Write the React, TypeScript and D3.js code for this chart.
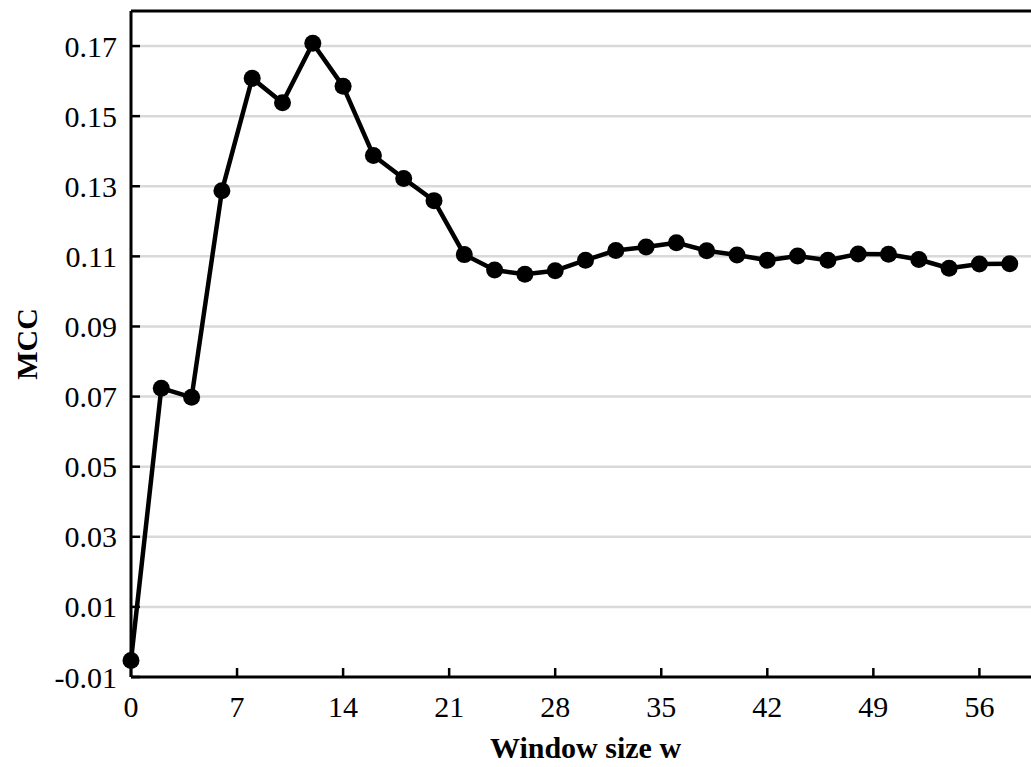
import React from "react";
import * as d3 from "d3";

// window sizes (x) and MCC values
const windowSizes = [
  0, 2, 4, 6, 8, 10, 12, 14, 16, 18, 20, 22, 24, 26, 28, 30, 32, 34, 36, 38, 40,
  42, 44, 46, 48, 50, 52, 54, 56, 58,
];
const mccValues = [
  -0.0053, 0.0724, 0.0698, 0.1287, 0.1608, 0.1538, 0.1708, 0.1585, 0.1388,
  0.1322, 0.1259, 0.1105, 0.1061, 0.1049, 0.1059, 0.1089, 0.1117, 0.1127,
  0.1139, 0.1116, 0.1104, 0.1089, 0.1101, 0.1089, 0.1107, 0.1106, 0.1091,
  0.1066, 0.1078, 0.1079,
];
const xTicks = [0, 7, 14, 21, 28, 35, 42, 49, 56];
const yTicks = [-0.01, 0.01, 0.03, 0.05, 0.07, 0.09, 0.11, 0.13, 0.15, 0.17];

const W = 1031;
const H = 767;
const margin = { top: 11, left: 131, bottom: 90 };
const plotRight = 1040;

const App: React.FC = () => {
  const x = d3.scaleLinear().domain([0, 60]).range([margin.left, plotRight]);
  const y = d3
    .scaleLinear()
    .domain([-0.01, 0.18])
    .range([H - margin.bottom, margin.top]);

  const points = windowSizes.map((w, i) => ({ w, v: mccValues[i] }));
  const line = d3
    .line<{ w: number; v: number }>()
    .x((d) => x(d.w))
    .y((d) => y(d.v));

  const font = "'Liberation Serif', 'Times New Roman', serif";
  const y0 = y(-0.01);

  return (
    <svg
      width={W}
      height={H}
      style={{ position: "absolute", left: 0, top: 0, background: "#fff" }}
      fontFamily={font}
    >
      {/* grid lines */}
      {yTicks
        .filter((t) => t > -0.01)
        .map((t) => (
          <line
            key={"g" + t}
            x1={margin.left + 9}
            x2={plotRight}
            y1={y(t)}
            y2={y(t)}
            stroke="#d9d9d9"
            strokeWidth={2.5}
          />
        ))}

      {/* axes frame */}
      <line x1={margin.left} x2={plotRight} y1={y0} y2={y0} stroke="#000" strokeWidth={3} />
      <line x1={margin.left} x2={plotRight} y1={margin.top} y2={margin.top} stroke="#000" strokeWidth={3} />
      <line x1={margin.left} x2={margin.left} y1={margin.top} y2={y0} stroke="#000" strokeWidth={3} />

      {/* y ticks */}
      {yTicks.map((t) => (
        <g key={"y" + t}>
          <line x1={margin.left} x2={margin.left + 9} y1={y(t)} y2={y(t)} stroke="#000" strokeWidth={2.5} />
          <text
            x={117}
            y={y(t)}
            dy="0.35em"
            textAnchor="end"
            fontSize={30}
            fill="#000"
          >
            {t.toFixed(2)}
          </text>
        </g>
      ))}

      {/* x ticks */}
      {xTicks.map((t) => (
        <g key={"x" + t}>
          <line x1={x(t)} x2={x(t)} y1={y0} y2={y0 - 9} stroke="#000" strokeWidth={2.5} />
          <text x={x(t)} y={717} textAnchor="middle" fontSize={30} fill="#000">
            {t}
          </text>
        </g>
      ))}

      {/* data */}
      <path d={line(points) || ""} fill="none" stroke="#000" strokeWidth={4.5} strokeLinejoin="round" />
      {points.map((d) => (
        <circle key={"p" + d.w} cx={x(d.w)} cy={y(d.v)} r={8.5} fill="#000" />
      ))}

      {/* axis titles */}
      <text
        x={(margin.left + plotRight) / 2}
        y={758}
        textAnchor="middle"
        fontSize={30}
        fontWeight="bold"
        fill="#000"
      >
        Window size w
      </text>
      <text
        transform={`translate(37,${(margin.top + y0) / 2}) rotate(-90)`}
        textAnchor="middle"
        fontSize={30}
        fontWeight="bold"
        fill="#000"
      >
        MCC
      </text>
    </svg>
  );
};

export default App;
